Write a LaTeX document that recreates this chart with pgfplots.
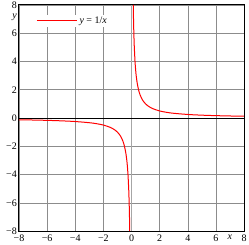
\documentclass[border=0pt]{standalone}
\usepackage{fontspec}
\setmainfont{Liberation Serif}
\usepackage{pgfplots}
\pgfplotsset{compat=1.18}
\definecolor{curvered}{RGB}{255,0,0}
\begin{document}
\begin{tikzpicture}
\path[use as bounding box] (-19pt,-13pt) rectangle (230pt,231pt);
\begin{axis}[
  at={(0,0)}, anchor=south west,
  scale only axis, width=225pt, height=226pt,
  xmin=-8, xmax=8, ymin=-8, ymax=8,
  xtick={-8,-6,...,8}, ytick={-8,-6,...,8},
  xticklabels={−8,−6,−4,−2,0,2,4,6,8},
  yticklabels={−8,−6,−4,−2,0,2,4,6,8},
  tick label style={font=\fontsize{10}{11}\selectfont},
  xticklabel style={inner sep=0pt, yshift=-4pt},
  yticklabel style={inner sep=0pt, xshift=-2pt},
  major tick length=0pt,
  grid=major, grid style={black!45, line width=0.5pt},
  axis line style={black, line width=1pt},
  xlabel={\textit{x}}, ylabel={\textit{y}},
  label style={font=\fontsize{10}{11}\selectfont},
  xlabel style={at={(axis cs:7,-8)}, anchor=north, inner sep=0pt, yshift=-4pt},
  ylabel style={at={(axis cs:-8,7.1)}, anchor=east, rotate=-90, inner sep=0pt, xshift=-2pt},
  legend style={draw=none, fill=white, inner sep=0pt, at={(rel axis cs:0.0756,0.931)}, anchor=west, font=\fontsize{10}{11}\selectfont},
  legend cell align=left,
  legend image code/.code={\draw[draw=curvered, line width=1.3pt] (0pt,0pt) -- (40pt,0pt);},
  unbounded coords=jump,
]
\draw[gray!70, line width=1.5pt] (axis cs:0,-8) -- (axis cs:0,8);
\draw[black, line width=0.6pt] (axis cs:-8,0) -- (axis cs:8,0);
\addplot[curvered, line width=1pt, smooth] coordinates {
(-8,-0.125) (-7,-0.1429) (-6,-0.1667) (-5,-0.2) (-4,-0.25) (-3,-0.3333) (-2.5,-0.4) (-2,-0.5) (-1.5,-0.6667) (-1.25,-0.8) (-1,-1) (-0.8,-1.25) (-0.7,-1.4286) (-0.6,-1.6667) (-0.5,-2) (-0.4,-2.5) (-0.35,-2.8571) (-0.3,-3.3333) (-0.25,-4) (-0.2,-5) (-0.18,-5.5556) (-0.16,-6.25) (-0.14,-7.1429) (-0.125,-8)
(0,nan)
(0.125,8) (0.14,7.1429) (0.16,6.25) (0.18,5.5556) (0.2,5) (0.25,4) (0.3,3.3333) (0.35,2.8571) (0.4,2.5) (0.5,2) (0.6,1.6667) (0.7,1.4286) (0.8,1.25) (1,1) (1.25,0.8) (1.5,0.6667) (2,0.5) (2.5,0.4) (3,0.3333) (4,0.25) (5,0.2) (6,0.1667) (7,0.1429) (8,0.125)
};
\addlegendentry{\textit{y} = 1/\textit{x}}
\end{axis}
\end{tikzpicture}
\end{document}
